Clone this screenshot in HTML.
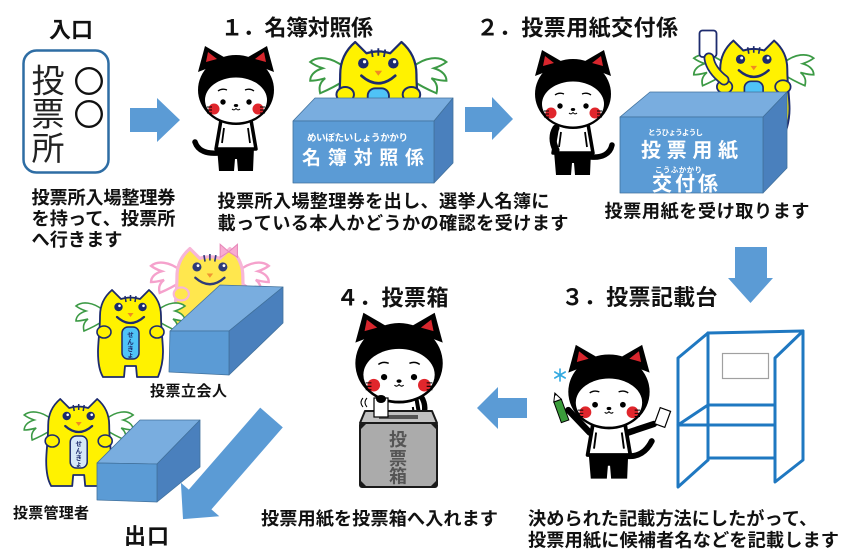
<!DOCTYPE html>
<html><head><meta charset="utf-8"><title>投票の流れ</title>
<style>
html,body{margin:0;padding:0;background:#fff;width:850px;height:560px;overflow:hidden}
svg{display:block}
text{font-family:"Liberation Sans","Noto Sans CJK JP",sans-serif}
.t{font-size:22px;font-weight:700;fill:#111}
.d{font-size:18.2px;font-weight:700;fill:#111}
.s{font-size:15px;font-weight:700;fill:#111}
.bx{stroke:#41719c;stroke-width:0.8;stroke-linejoin:round}
.f{fill:#5b9bd5}.tp{fill:#79addf}.sd{fill:#4a80bd}
.ar{fill:#5b9bd5}
.bo{fill:none;stroke:#1f78c1;stroke-width:3;stroke-linejoin:round;stroke-linecap:round}
.w{fill:#fff;font-weight:700}
</style></head><body>
<svg width="850" height="560" viewBox="0 0 850 560" xmlns="http://www.w3.org/2000/svg">
<defs>
 <path id="mp" d="M14,0 L23,9 Q32.5,6 42,9 L51,0 C58,6 63,14 63,26 C63,40 65,52 65,62 C65,74 62,82 60,87 L39,87 L38,76 L27,76 L26,87 L5,87 C2,82 0,74 0,62 C0,52 2,40 2,26 C2,14 7,6 14,0 Z"/>
 <path id="wl" d="M5,20 C-5,12 -16,11 -22,16 C-18,19 -15,20 -12,21 C-19,23 -22,27 -22,31 C-17,31 -14,30 -10,29 C-15,33 -15,37 -14,41 C-7,38 -1,35 5,31 Z"/>
 <path id="wr" d="M60,20 C70,12 81,11 87,16 C83,19 80,20 77,21 C84,23 87,27 87,31 C82,31 79,30 75,29 C80,33 80,37 79,41 C72,38 66,35 60,31 Z"/>
 <g id="mface">
  <path d="M27,6 L28,12 M32.5,5 L32.5,11 M38,6 L37,12" stroke="#1d2b6e" stroke-width="1.5" fill="none"/>
  <circle cx="20.5" cy="17" r="4.2" fill="#1d2b6e"/><circle cx="44.5" cy="17" r="4.2" fill="#1d2b6e"/>
  <circle cx="21.5" cy="15.8" r="1.3" fill="#fff"/><circle cx="45.5" cy="15.8" r="1.3" fill="#fff"/>
  <path d="M29.5,23 L35.5,23 L32.5,27 Z" fill="#f08a22"/>
  <path d="M19,27 Q32.5,39 46,27" fill="none" stroke="#1d2b6e" stroke-width="2.2" stroke-linecap="round"/>
 </g>
 <g id="masc">
  <use href="#wl" fill="#fff" stroke="#3c9a45" stroke-width="1.6"/>
  <use href="#wr" fill="#fff" stroke="#3c9a45" stroke-width="1.6"/>
  <use href="#mp" fill="#fff200" stroke="#1d2b6e" stroke-width="1.8" stroke-linejoin="round"/>
  <use href="#mface"/>
  <ellipse cx="6" cy="42" rx="7" ry="6" fill="#fff200" stroke="#1d2b6e" stroke-width="1.6"/>
  <ellipse cx="59" cy="42" rx="7" ry="6" fill="#fff200" stroke="#1d2b6e" stroke-width="1.6"/>
 </g>
 <g id="cathead">
  <polygon points="13,32 20,6 44,20" fill="#000"/>
  <polygon points="58,20 82,6 89,32" fill="#000"/>
  <ellipse cx="51" cy="50" rx="38" ry="35" fill="#000"/>
  <polygon points="21,22 23,12 32,19" fill="#d8262d"/>
  <polygon points="70,19 79,12 81,22" fill="#d8262d"/>
  <ellipse cx="51" cy="60" rx="31" ry="22.5" fill="#fff"/>
  <path d="M33,51 Q37,48 42,50 M60,50 Q65,48 69,51" stroke="#000" stroke-width="1.3" fill="none"/>
  <circle cx="38" cy="62" r="2.7" fill="#000"/>
  <circle cx="64" cy="62" r="2.7" fill="#000"/>
  <ellipse cx="51" cy="65.5" rx="2.2" ry="1.5" fill="#000"/>
  <path d="M47,69 Q49,71 51,68.5 Q53,71 55,69" stroke="#000" stroke-width="1" fill="none"/>
  <circle cx="29" cy="69" r="5.5" fill="#e0262c"/>
  <circle cx="73" cy="69" r="5.5" fill="#e0262c"/>
  <path d="M22,67 h5 M22,70 h5 M22,73 h5 M75,67 h5 M75,70 h5 M75,73 h5" stroke="#000" stroke-width="0.9"/>
 </g>
 <g id="catbody">
  <path d="M32,107 L69,107 L68,131 L53,131 L52,119 L50,119 L49,131 L34,131 Z" fill="#000"/>
  <path d="M36,80 L66,80 L71,109 L31,109 Z" fill="#fff" stroke="#000" stroke-width="3.5" stroke-linejoin="round"/>
  <path d="M39,88 L37,103 M63,88 L65,103" stroke="#000" stroke-width="1.8"/>
 </g>
</defs>

<!-- ===== Entrance ===== -->
<text class="t" x="49" y="37.5" textLength="44">入口</text>
<rect x="23.5" y="50.5" width="85" height="122" rx="13" fill="#fff" stroke="#2e6da4" stroke-width="2.5"/>
<g font-size="33" fill="#222" text-anchor="middle">
 <text x="48" y="92.5">投</text>
 <text x="48" y="125.5">票</text>
 <text x="48" y="160">所</text>
</g>
<g font-size="31" fill="#111" text-anchor="middle">
 <text x="89" y="92.8">〇</text>
 <text x="89" y="125.8">〇</text>
</g>
<text class="d" x="31.5" y="204" textLength="144">投票所入場整理券</text>
<text class="d" x="31.5" y="225" textLength="144">を持って、投票所</text>
<text class="d" x="31.5" y="246">へ行きます</text>

<polygon class="ar" points="130,108 157,108 157,98 180,120 157,142 157,132 130,132"/>

<!-- ===== Step 1 ===== -->
<text class="t" x="221" y="35.5" textLength="152">１．名簿対照係</text>
<g transform="translate(185,40)">
 <path d="M33,113 C22,114 13,111 10,102" stroke="#000" stroke-width="5.5" fill="none" stroke-linecap="round"/>
 <use href="#catbody"/>
 <use href="#cathead"/>
</g>
<g transform="translate(337.7,42) scale(1.25)">
 <use href="#masc"/>
 <rect x="24" y="37" width="17" height="32" rx="6" fill="#4fc3f7" stroke="#1d2b6e" stroke-width="1.5"/>
</g>
<polygon class="bx tp" points="293,121 315,98 453,98 434,121"/>
<polygon class="bx sd" points="434,121 453,98 453,163 434,183"/>
<polygon class="bx f" points="293,121 434,121 434,183 293,183"/>
<text class="w" x="307" y="141" font-size="9.5" textLength="101">めいぼたいしょうかかり</text>
<text class="w" x="302" y="164" font-size="19" textLength="122">名簿対照係</text>
<text class="d" x="217.5" y="207.5" textLength="332">投票所入場整理券を出し、選挙人名簿に</text>
<text class="d" x="217.5" y="229.5" textLength="351">載っている本人かどうかの確認を受けます</text>

<polygon class="ar" points="465,107 492,107 492,97 513,119 492,140 492,132 465,132"/>

<!-- ===== Step 2 ===== -->
<text class="t" x="476.5" y="35.5" textLength="201.5">２．投票用紙交付係</text>
<g transform="translate(522,44)">
 <path d="M69,113 C80,114 88,110 90,101" stroke="#000" stroke-width="5.5" fill="none" stroke-linecap="round"/>
 <use href="#catbody"/>
 <use href="#cathead"/>
 <path d="M34,106 C30,98 30,90 34,84" stroke="#000" stroke-width="7" stroke-linecap="round" fill="none"/>
</g>
<g transform="translate(718,40.6) scale(1.1)">
 <use href="#masc"/>
 <rect x="24" y="37" width="17" height="32" rx="6" fill="#4fc3f7" stroke="#1d2b6e" stroke-width="1.5"/>
</g>
<rect x="699.5" y="30.5" width="17" height="26.5" rx="3" fill="#fff" stroke="#1d2b6e" stroke-width="1.8"/>
<path d="M724,80 C716,74 710,66 709,58" stroke="#1d2b6e" stroke-width="11" fill="none" stroke-linecap="round"/>
<path d="M724,80 C716,74 710,66 709,58" stroke="#fff200" stroke-width="7.5" fill="none" stroke-linecap="round"/>
<polygon class="bx tp" points="620,117 650,92 787,92 763,117"/>
<polygon class="bx sd" points="763,117 787,92 787,168 763,193"/>
<polygon class="bx f" points="620,117 763,117 763,193 620,193"/>
<text class="w" x="648" y="135" font-size="7.5" textLength="55">とうひょうようし</text>
<text class="w" x="641" y="157" font-size="20" textLength="97">投票用紙</text>
<text class="w" x="655" y="172.5" font-size="7.5" textLength="47">こうふかかり</text>
<text class="w" x="652" y="190.5" font-size="20" textLength="66">交付係</text>
<text class="d" x="604.5" y="217.5" textLength="205">投票用紙を受け取ります</text>

<polygon class="ar" points="735,247 767,247 767,278 773,278 750.5,303 728,278 735,278"/>

<!-- ===== Step 3 ===== -->
<text class="t" x="561.5" y="305" textLength="156">３．投票記載台</text>
<g transform="translate(554.4,338.4) scale(1.07)">
 <path d="M68,110 C78,111 86,106 91,96" stroke="#000" stroke-width="5.5" fill="none" stroke-linecap="round"/>
 <use href="#catbody"/>
 <path d="M33,88 L13,67 M69,88 L93,80" stroke="#000" stroke-width="6" stroke-linecap="round"/>
 <use href="#cathead"/>
</g>
<g transform="translate(561,410) rotate(-20)">
 <rect x="-4" y="-10" width="8" height="22" fill="#3a9c3a" stroke="#000" stroke-width="1"/>
 <polygon points="-4,-10 4,-10 0,-18" fill="#fff" stroke="#000" stroke-width="1"/>
 <polygon points="-1.2,-15.5 1.2,-15.5 0,-18" fill="#000"/>
</g>
<g transform="translate(662.5,417.5) rotate(20)">
 <rect x="-5.5" y="-8.5" width="11" height="17" fill="#fff" stroke="#000" stroke-width="1.2"/>
</g>
<g stroke="#33a9e0" stroke-width="1.6" stroke-linecap="round">
 <line x1="560" y1="369" x2="560" y2="381"/>
 <line x1="554.8" y1="372" x2="565.2" y2="378"/>
 <line x1="554.8" y1="378" x2="565.2" y2="372"/>
</g>
<!-- booth -->
<line class="bo" x1="708" y1="333" x2="803" y2="331"/>
<line class="bo" x1="708" y1="333" x2="708" y2="460"/>
<line class="bo" x1="708" y1="458" x2="775" y2="458"/>
<polyline class="bo" points="678,425 708,405 775,405"/>
<line class="bo" x1="678" y1="425" x2="775" y2="425"/>
<polygon class="bo" points="678,358 708,333 708,460 678,487"/>
<polygon class="bo" points="775,358 803,331 803,460 775,482" style="fill:#fff"/>
<rect x="722.5" y="353.5" width="46" height="25" fill="#fff" stroke="#a0a0a0" stroke-width="1.2"/>
<text class="d" x="528" y="525">決められた記載方法にしたがって、</text>
<text class="d" x="528" y="546.5" textLength="311">投票用紙に候補者名などを記載します</text>

<polygon class="ar" points="527,398 498,398 498,387 477,408 498,429 498,418 527,418"/>

<!-- ===== Step 4 ===== -->
<text class="t" x="336.5" y="305.5" textLength="112">４．投票箱</text>
<path d="M417,392 C424,398 426,406 424,414" stroke="#000" stroke-width="5.5" fill="none" stroke-linecap="round"/>
<g transform="translate(340.4,305.8) scale(1.15)">
 <use href="#catbody"/>
 <use href="#cathead"/>
</g>
<polygon points="365,411 432,411 437,423 360,423" fill="#c2c2c2" stroke="#1a1a1a" stroke-width="2" stroke-linejoin="round"/>
<rect x="360" y="423" width="77" height="64" rx="2" fill="#ababab" stroke="#1a1a1a" stroke-width="2"/>
<rect x="379" y="415" width="39" height="4" fill="#555"/>
<polygon points="360,480 360,487 367,487" fill="#1a1a1a"/>
<polygon points="437,480 437,487 430,487" fill="#1a1a1a"/>
<polygon points="360,423 367,423 360,430" fill="#1a1a1a"/>
<polygon points="437,423 430,423 437,430" fill="#1a1a1a"/>
<g font-size="18" font-weight="700" fill="#555" text-anchor="middle">
 <text x="398" y="446">投</text>
 <text x="398" y="465">票</text>
 <text x="398" y="482.5">箱</text>
</g>
<rect x="374" y="398" width="14" height="19" fill="#fff" stroke="#000" stroke-width="1.2"/>
<ellipse cx="381" cy="399" rx="5" ry="4" fill="#000"/>
<path d="M367,398 Q363,402.5 367,407 M363,398 Q359,402.5 363,407" stroke="#000" stroke-width="1" fill="none"/>
<text class="d" x="261" y="525" textLength="237">投票用紙を投票箱へ入れます</text>

<!-- ===== Exit side ===== -->
<g transform="translate(174.8,248.6) scale(1.08)" opacity="0.92">
 <use href="#wl" fill="#fff" stroke="#f59ac8" stroke-width="2.2"/>
 <use href="#wr" fill="#fff" stroke="#f59ac8" stroke-width="2.2"/>
 <use href="#mp" fill="#ffe640" stroke="#f7b0d4" stroke-width="3" stroke-linejoin="round"/>
 <use href="#mface"/>
 <ellipse cx="6" cy="42" rx="7" ry="6" fill="#ffe640" stroke="#f7b0d4" stroke-width="2"/>
 <ellipse cx="59" cy="42" rx="7" ry="6" fill="#ffe640" stroke="#f7b0d4" stroke-width="2"/>
 <path d="M50,3 L42,-4 L42,8 Z M50,3 L58,-4 L58,8 Z" fill="#f8a6cf" stroke="#e57fb4" stroke-width="1"/>
</g>
<g transform="translate(98,290)">
 <use href="#masc"/>
 <rect x="24" y="37" width="17" height="32" rx="6" fill="#4fc3f7" stroke="#1d2b6e" stroke-width="1.5"/>
 <g font-size="6.5" font-weight="700" fill="#1d2b6e" text-anchor="middle">
  <text x="32.5" y="47">せ</text><text x="32.5" y="54">ん</text><text x="32.5" y="61">き</text><text x="32.5" y="67">ょ</text>
 </g>
</g>
<polygon class="bx tp" points="170,331 220,285 283,287 229,331"/>
<polygon class="bx sd" points="229,331 283,287 283,323 229,375"/>
<polygon class="bx f" points="170,331 229,331 229,375 169,372"/>
<text class="s" x="150" y="396" textLength="77">投票立会人</text>

<g transform="translate(46.2,399)">
 <use href="#masc"/>
 <rect x="24" y="37" width="17" height="32" rx="6" fill="#d6e8f8" stroke="#1d2b6e" stroke-width="1.5"/>
 <g font-size="6.5" font-weight="700" fill="#1d2b6e" text-anchor="middle">
  <text x="32.5" y="47">せ</text><text x="32.5" y="54">ん</text><text x="32.5" y="61">き</text><text x="32.5" y="67">ょ</text>
 </g>
</g>
<polygon class="bx tp" points="97,463 140,420 200,420 157,464"/>
<polygon class="bx sd" points="157,464 200,420 200,467 157,502"/>
<polygon class="bx f" points="97,463 157,464 157,502 97,500"/>
<text class="s" x="13" y="518" textLength="76">投票管理者</text>

<polygon class="ar" points="260.2,407.6 282.8,427.4 211.4,509.4 219.3,516.3 183,519.1 180.9,482.7 188.8,489.6"/>
<text class="t" x="124" y="544" textLength="45">出口</text>
</svg>
</body></html>
